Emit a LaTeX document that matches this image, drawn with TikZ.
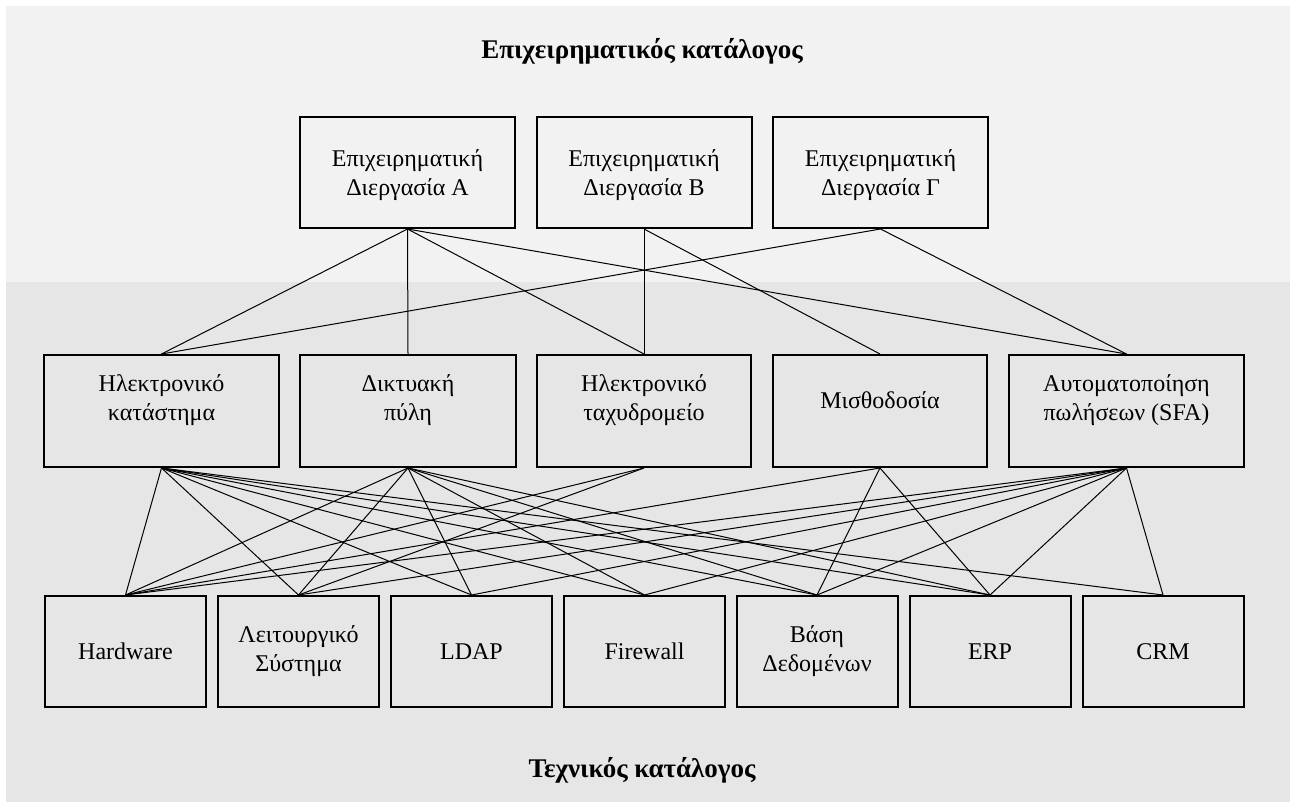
\documentclass[tikz,border=0pt]{standalone}
\usepackage{fontspec}
\setmainfont{Liberation Serif}
\definecolor{topband}{HTML}{F2F2F2}
\definecolor{lowband}{HTML}{E6E6E6}
\begin{document}
\begin{tikzpicture}[x=1pt,y=-1pt,
  box/.style={draw=black, line width=2pt, inner sep=0pt},
  boxtext/.style={align=center, inner sep=0pt, font=\fontsize{24}{29}\selectfont},
  topbox/.style={box, fill=topband, minimum width=215pt, minimum height=111pt},
  midbox/.style={box, fill=lowband, minimum height=112pt},
  lowbox/.style={box, fill=lowband, minimum width=161pt, minimum height=111pt},
  % caption placed inside a box, raised or lowered by #1
  cap/.style args={#1:#2}{label={[boxtext, yshift=#1]center:{#2}}},
  title/.style={font=\fontsize{27}{32}\selectfont\bfseries, inner sep=0pt, anchor=base},
  link/.style={draw=black, line width=1pt}]

\useasboundingbox (0,0) rectangle (1290,802);
\fill[white] (0,0) rectangle (1290,802);
\fill[topband] (6,6) rectangle (1290,282);
\fill[lowband] (6,282) rectangle (1290,802);

% catalogue headings
\node[title] (ttop) at (642,59) {Επιχειρηματικός κατάλογος};
\node[title] (tlow) at (642,777) {Τεχνικός κατάλογος};

% business processes
\node[topbox, cap={-3pt:Επιχειρηματική\\Διεργασία Α}] (pa) at (407.5,172.5) {};
\node[topbox, cap={-3pt:Επιχειρηματική\\Διεργασία Β}] (pb) at (644,172.5) {};
\node[topbox, cap={-3pt:Επιχειρηματική\\Διεργασία Γ}] (pc) at (880.5,172.5) {};

% services
\node[midbox, minimum width=235pt, cap={11pt:Ηλεκτρονικό\\κατάστημα}] (m1) at (161.5,411) {};
\node[midbox, minimum width=216pt, cap={11pt:Δικτυακή\\πύλη}] (m2) at (408,411) {};
\node[midbox, minimum width=214pt, cap={11pt:Ηλεκτρονικό\\ταχυδρομείο}] (m3) at (644,411) {};
\node[midbox, minimum width=214pt, cap={11pt:Μισθοδοσία}] (m4) at (880,411) {};
\node[midbox, minimum width=235pt, cap={11pt:Αυτοματοποίηση\\πωλήσεων (SFA)}] (m5) at (1126.5,411) {};

% technical components
\node[lowbox, cap={0pt:Hardware}] (b1) at (125.5,651.5) {};
\node[lowbox, cap={0pt:Λειτουργικό\\Σύστημα}] (b2) at (298.5,651.5) {};
\node[lowbox, cap={0pt:LDAP}] (b3) at (471.5,651.5) {};
\node[lowbox, cap={0pt:Firewall}] (b4) at (644.5,651.5) {};
\node[lowbox, cap={0pt:Βάση\\Δεδομένων}] (b5) at (817,651.5) {};
\node[lowbox, cap={0pt:ERP}] (b6) at (990,651.5) {};
\node[lowbox, cap={0pt:CRM}] (b7) at (1163,651.5) {};

% process -> service
\foreach \a/\b in {pa/m1, pa/m2, pa/m3, pa/m5, pb/m3, pb/m4, pc/m1, pc/m5}
  \draw[link] (\a.south) -- (\b.north);

% service -> component
\foreach \a/\b in {m1/b1, m1/b2, m1/b3, m1/b4, m1/b5, m1/b6, m1/b7,
                   m2/b1, m2/b2, m2/b3, m2/b4, m2/b5, m2/b6,
                   m3/b1, m3/b2,
                   m4/b1, m4/b5, m4/b6,
                   m5/b1, m5/b2, m5/b3, m5/b4, m5/b5, m5/b6, m5/b7}
  \draw[link] (\a.south) -- (\b.north);
\end{tikzpicture}
\end{document}
